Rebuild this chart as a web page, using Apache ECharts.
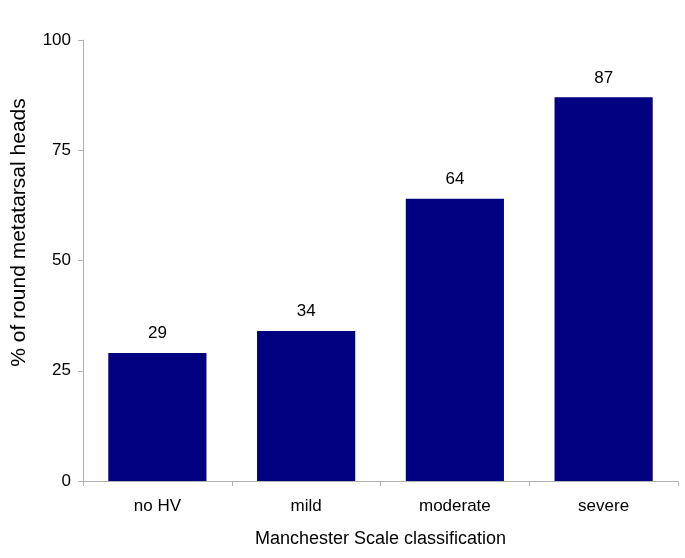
<!DOCTYPE html>
<html>
<head>
<meta charset="utf-8">
<script src="https://cdn.jsdelivr.net/npm/echarts@6/dist/echarts.min.js"></script>
<style>
  html, body { margin: 0; padding: 0; background: #fff; }
  #chart { width: 685px; height: 558px; }
</style>
</head>
<body>
<div id="chart"></div>
<script>
const categories = ['no HV', 'mild', 'moderate', 'severe']
const values = [29, 34, 64, 87]
const yTicks = [0, 25, 50, 75, 100]

const myChart = echarts.init(document.getElementById('chart'))
const font = 'Liberation Sans, Arial, sans-serif'

const option = {
  animation: false,
  textStyle: { fontFamily: font },
  grid: { left: 83, right: 7, top: 40, bottom: 77 },
  xAxis: {
    type: 'category',
    data: categories,
    name: 'Manchester Scale classification',
    nameLocation: 'middle',
    nameGap: 49,
    nameTextStyle: { fontSize: 18, color: '#000', fontFamily: font },
    axisLine: { lineStyle: { color: '#b3b3b3' } },
    axisTick: { show: true, alignWithLabel: false, length: 5, lineStyle: { color: '#b3b3b3' } },
    axisLabel: { fontSize: 17, color: '#000', margin: 17, fontFamily: font }
  },
  yAxis: {
    type: 'value',
    min: yTicks[0],
    max: yTicks[yTicks.length - 1],
    interval: 25,
    name: '% of round metatarsal heads',
    nameLocation: 'middle',
    nameGap: 53,
    // 标题整体略偏上
    nameTextStyle: { fontSize: 21, color: '#000', fontFamily: font, padding: [0, 0, 0, 56] },
    axisLine: { show: true, lineStyle: { color: '#b3b3b3' } },
    axisTick: { show: true, length: 5, lineStyle: { color: '#b3b3b3' } },
    splitLine: { show: false },
    axisLabel: { fontSize: 17, color: '#000', margin: 12, fontFamily: font }
  },
  series: [
    {
      type: 'bar',
      data: values,
      barCategoryGap: '34%',
      itemStyle: { color: '#000080' },
      label: {
        show: true,
        position: 'top',
        distance: 11,
        fontSize: 17,
        color: '#000',
        fontFamily: font
      }
    }
  ]
}

myChart.setOption(option)
</script>
</body>
</html>
